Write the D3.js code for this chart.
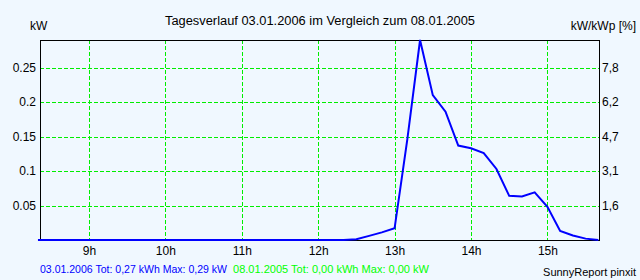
<!DOCTYPE html>
<html><head><meta charset="utf-8">
<script src="https://cdn.jsdelivr.net/npm/d3@7"></script>
<style>
html,body{margin:0;padding:0;background:#f0f8ff;}
svg{display:block;font-family:"Liberation Sans",Arial,sans-serif;}
</style></head>
<body>
<svg id="chart" width="640" height="280"></svg>
<script>
// ---- data ----
const times = ["08:20","12:20","12:30","12:40","12:50","13:00","13:10","13:20","13:30","13:40","13:50",
  "14:00","14:10","14:20","14:30","14:40","14:50","15:00","15:10","15:20","15:30","15:40"];
const power2006 = [0,0,0.001,0.006,0.011,0.017,0.146,0.290,0.210,0.186,0.137,
  0.133,0.126,0.103,0.064,0.063,0.069,0.048,0.013,0.0065,0.002,0];
const hourTicks = [9,10,11,12,13,14,15];
const hourLabels = ["9h","10h","11h","12h","13h","14h","15h"];
const kwTicks = [0.05,0.1,0.15,0.2,0.25];
const kwLabels = ["0.05","0.1","0.15","0.2","0.25"];
const pctLabels = ["1,6","3,1","4,7","6,2","7,8"];
const titleText = "Tagesverlauf 03.01.2006 im Vergleich zum 08.01.2005";
const legend1 = "03.01.2006 Tot: 0,27 kWh Max: 0,29 kW";
const legend2 = "08.01.2005 Tot: 0,00 kWh Max: 0,00 kW";

const toHour = s => { const [h,m] = s.split(":").map(Number); return h + m/60; };

const svg = d3.select("#chart");
const L = 40, R = 599, T = 40, B = 240;
const x = d3.scaleLinear().domain([8.36, 15.675]).range([L, R]);
const y = d3.scaleLinear().domain([0, 0.29]).range([B, T]);
const snap = v => Math.round(v) + 0.5;

svg.append("rect").attr("width",640).attr("height",280).attr("fill","#f0f8ff");

// grid
const grid = svg.append("g").attr("stroke","#00ee00").attr("stroke-dasharray","4,2").attr("stroke-width",1);
grid.selectAll(".h").data(kwTicks).join("line")
  .attr("x1",L).attr("x2",R).attr("y1",d=>snap(y(d))).attr("y2",d=>snap(y(d)));
grid.selectAll(".v").data(hourTicks).join("line")
  .attr("y1",T).attr("y2",B).attr("x1",d=>snap(x(d))).attr("x2",d=>snap(x(d)));

// frame
svg.append("rect").attr("x",L+0.5).attr("y",T+0.5).attr("width",R-L).attr("height",B-T)
  .attr("fill","none").attr("stroke","#000").attr("stroke-width",1);

// axes (labels only)
const fs = "12px";
const la = svg.append("g").attr("transform",`translate(${L},0)`)
  .call(d3.axisLeft(y).tickValues(kwTicks).tickFormat((d,i)=>kwLabels[i]).tickSize(0).tickPadding(4));
const ra = svg.append("g").attr("transform",`translate(${R},0)`)
  .call(d3.axisRight(y).tickValues(kwTicks).tickFormat((d,i)=>pctLabels[i]).tickSize(0).tickPadding(3));
const ba = svg.append("g").attr("transform",`translate(0,${B+4})`)
  .call(d3.axisBottom(x).tickValues(hourTicks).tickFormat((d,i)=>hourLabels[i]).tickSize(0).tickPadding(2));
[la,ra,ba].forEach(g=>{
  g.select(".domain").remove();
  g.selectAll("text").attr("fill","#000").style("font-size",fs).style("font-family","Liberation Sans, Arial, sans-serif");
});

// line
const line = d3.line().x((d,i)=>x(toHour(times[i]))).y(d=>y(d));
svg.append("path").datum(power2006).attr("d",line)
  .attr("fill","none").attr("stroke","#0000ff").attr("stroke-width",2).attr("stroke-linejoin","miter");

// texts
svg.append("text").attr("x",165).attr("y",24.5)
  .attr("textLength",310).attr("lengthAdjust","spacingAndGlyphs")
  .style("font-size","12px").attr("fill","#000").text(titleText);
svg.append("text").attr("x",30).attr("y",30).style("font-size","12px").attr("fill","#000").text("kW");
svg.append("text").attr("x",636).attr("y",30).attr("text-anchor","end").style("font-size","12px").attr("fill","#000").text("kW/kWp [%]");
svg.append("text").attr("x",40).attr("y",273).style("font-size","11px").attr("fill","#0000ff")
  .attr("textLength",187).attr("lengthAdjust","spacingAndGlyphs").text(legend1);
svg.append("text").attr("x",233).attr("y",273).style("font-size","11px").attr("fill","#00ff00")
  .attr("textLength",196).attr("lengthAdjust","spacingAndGlyphs").text(legend2);
svg.append("text").attr("x",636).attr("y",276).attr("text-anchor","end").style("font-size","11px").attr("fill","#000").text("SunnyReport pinxit");
</script>
</body></html>
